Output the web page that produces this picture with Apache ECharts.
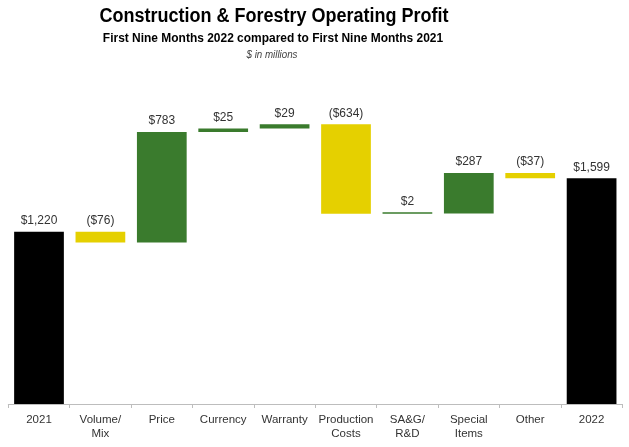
<!DOCTYPE html>
<html>
<head>
<meta charset="utf-8">
<script src="https://cdn.jsdelivr.net/npm/echarts@6/dist/echarts.min.js"></script>
<style>
html,body{margin:0;padding:0;background:#fff;}
#c{width:629px;height:447px;}
</style>
</head>
<body>
<div id="c"></div>
<script>
const titleText = 'Construction & Forestry Operating Profit';
const subtitleText = 'First Nine Months 2022 compared to First Nine Months 2021';
const unitText = '$ in millions';
const categories = ['2021', 'Volume/\nMix', 'Price', 'Currency', 'Warranty', 'Production\nCosts', 'SA&G/\nR&D', 'Special\nItems', 'Other', '2022'];
// change values (totals for first and last)
const values = [1220, -76, 783, 25, 29, -634, 2, 287, -37, 1599];
const kinds = ['total', 'delta', 'delta', 'delta', 'delta', 'delta', 'delta', 'delta', 'delta', 'total'];
const labels = ['$1,220', '($76)', '$783', '$25', '$29', '($634)', '$2', '$287', '($37)', '$1,599'];

const colors = { total: '#000000', up: '#3a7b2d', down: '#e5d000' };

// compute waterfall base/height
const base = [], heights = [], barColors = [];
let running = 0;
values.forEach((v, i) => {
  if (kinds[i] === 'total') {
    base.push(0); heights.push(v); barColors.push(colors.total); running = v;
  } else if (v >= 0) {
    base.push(running); heights.push(v); barColors.push(colors.up); running += v;
  } else {
    running += v; base.push(running); heights.push(-v); barColors.push(colors.down);
  }
});

const FONT = 'Liberation Sans, Arial, sans-serif';
function headText(text, x, y, size, weight, style, color, sx) {
  return {
    type: 'text', x: x, y: y, scaleX: sx, scaleY: 1, silent: true,
    style: {
      text: text, fontFamily: FONT, fontSize: size, fontWeight: weight, fontStyle: style,
      fill: color, textAlign: 'center', textVerticalAlign: 'middle', align: 'center', verticalAlign: 'middle'
    }
  };
}

const chart = echarts.init(document.getElementById('c'));
chart.setOption({
  animation: false,
  graphic: [
    headText(titleText, 274, 16.5, 20, 'bold', 'normal', '#000', 0.9),
    headText(subtitleText, 273, 38.5, 13, 'bold', 'normal', '#000', 0.92),
    headText(unitText, 272, 55, 10.5, 'normal', 'italic', '#444', 0.93)
  ],
  grid: { left: 8.3, right: 6.7, top: 93.4, bottom: 43, containLabel: false },
  xAxis: {
    type: 'category',
    data: categories,
    axisLine: { lineStyle: { color: '#bdbdbd', width: 1 } },
    axisTick: { show: true, alignWithLabel: false, length: 4, lineStyle: { color: '#bdbdbd' } },
    axisLabel: { interval: 0, margin: 9, color: '#333', fontSize: 11.5, lineHeight: 14,
      fontFamily: FONT }
  },
  yAxis: {
    type: 'value', min: 0, max: 2200, show: false,
    splitLine: { show: false }
  },
  series: [
    { type: 'bar', stack: 'w', data: base, itemStyle: { color: 'transparent' },
      barCategoryGap: '19%', silent: true },
    { type: 'bar', stack: 'w', barMinHeight: 1.5,
      data: heights.map((h, i) => ({ value: h, itemStyle: { color: barColors[i] } })),
      label: { show: true, position: 'top', distance: 5, color: '#333', fontSize: 12,
        fontFamily: FONT,
        formatter: p => labels[p.dataIndex] }
    }
  ]
});
</script>
</body>
</html>
